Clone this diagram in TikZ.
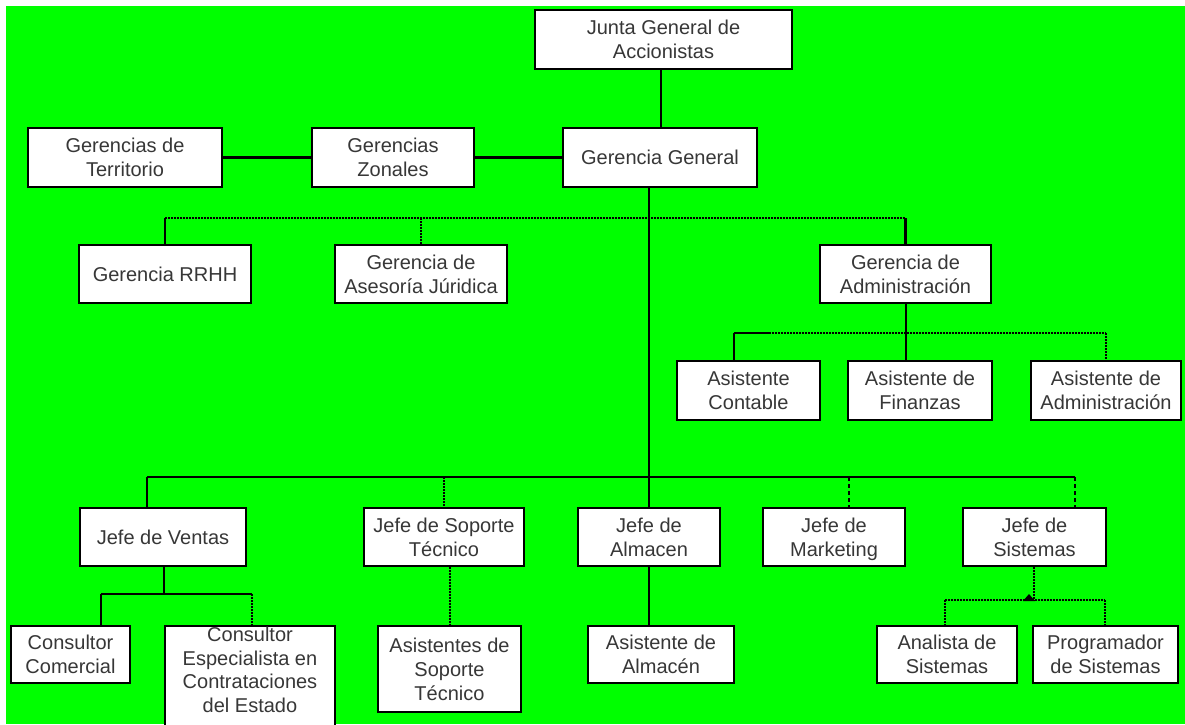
\documentclass[tikz,border=0pt]{standalone}
\usepackage{fontspec}
\setmainfont{Liberation Sans}
\usetikzlibrary{calc}
\definecolor{bggreen}{RGB}{0,255,0}
\definecolor{txtgray}{RGB}{55,55,55}
\begin{document}
\begin{tikzpicture}[x=1pt,y=-1pt,
  box/.style={draw=black, line width=1.8pt, fill=white, text=txtgray, align=center,
    inner sep=0pt, font=\fontsize{20}{24}\selectfont},
  txt/.style={text=txtgray, align=center, inner sep=0pt, font=\fontsize{20}{23.5}\selectfont},
  ln/.style={line width=2.4pt, black},
  dt/.style={line width=2.4pt, black, dash pattern=on 2pt off 1pt},
  dsh/.style={line width=2.4pt, black, dash pattern=on 4pt off 3pt}]
\useasboundingbox (0,0) rectangle (1185,724);
\clip (0,0) rectangle (1185,724);
\fill[white] (0,0) rectangle (1185,724);
\fill[bggreen] (6,6) rectangle (1185,724);

% coordinates of buses
\coordinate (tbus) at (649,218);
\coordinate (abus) at (906,333);
\coordinate (abusl) at (734,333);
\coordinate (abusm) at (769,333);
\coordinate (abusr) at (1106,333);
\coordinate (bbusl) at (147,477);
\coordinate (bbusr) at (1075,477);
\coordinate (vbus) at (164,594);
\coordinate (vbusl) at (101,594);
\coordinate (vbusr) at (252,594);
\coordinate (sbus) at (1034,600);
\coordinate (sbusl) at (945,600);
\coordinate (sbusr) at (1105,600);

% row 0 / 1
\node[box, minimum width=257pt, minimum height=59pt] (junta) at (663.5,39.5) {Junta General de\\Accionistas};
\node[box, minimum width=194pt, minimum height=59pt] (terr) at (125,157.5) {Gerencias de\\Territorio};
\node[box, minimum width=162pt, minimum height=59pt] (zon) at (393,157.5) {Gerencias\\Zonales};
\node[box, minimum width=194pt, minimum height=59pt] (gg) at (660,157.5) {Gerencia General};

% row 2
\node[box, minimum width=172pt, minimum height=58pt] (rrhh) at (165,274) {Gerencia RRHH};
\node[box, minimum width=172pt, minimum height=58pt] (jur) at (421,274) {Gerencia de\\Asesoría Júridica};
\node[box, minimum width=171pt, minimum height=58pt] (adm) at (905.5,274) {Gerencia de\\Administración};

% row 3
\node[box, minimum width=143pt, minimum height=59pt] (cont) at (748.5,390.5) {Asistente\\Contable};
\node[box, minimum width=144pt, minimum height=59pt] (fin) at (920,390.5) {Asistente de\\Finanzas};
\node[box, minimum width=150pt, minimum height=59pt] (asadm) at (1106,390.5) {Asistente de\\Administración};

% row 4
\node[box, minimum width=166pt, minimum height=58pt] (ventas) at (163,537) {Jefe de Ventas};
\node[box, minimum width=160pt, minimum height=58pt] (sop) at (444,537) {Jefe de Soporte\\Técnico};
\node[box, minimum width=142pt, minimum height=58pt] (alm) at (649,537) {Jefe de\\Almacen};
\node[box, minimum width=142pt, minimum height=58pt] (mkt) at (834,537) {Jefe de\\\raisebox{0pt}[\height][0pt]{Marketing}};
\node[box, minimum width=143pt, minimum height=58pt] (sis) at (1034.5,537) {Jefe de\\Sistemas};

% row 5
\node[box, minimum width=119pt, minimum height=57pt] (com) at (70.5,654.5) {Consultor\\Comercial};
\node[box, minimum width=170pt, minimum height=110pt] (espec) at (250,681) {};
\node[txt] (espect) at (250,670) {Consultor\\Especialista en\\Contrataciones\\del Estado};
\node[box, minimum width=143pt, minimum height=86pt] (asop) at (449.5,669) {Asistentes de\\Soporte\\Técnico};
\node[box, minimum width=146pt, minimum height=57pt] (asalm) at (661,654.5) {Asistente de\\Almacén};
\node[box, minimum width=140pt, minimum height=57pt] (anal) at (947,654.5) {Analista de\\Sistemas};
\node[box, minimum width=145pt, minimum height=57pt] (prog) at (1105.5,654.5) {Programador\\de Sistemas};

% connectors top
\draw[ln] (junta.south -| 661,0) -- (gg.north -| 661,0);
\draw[ln] (terr) -- (zon);
\draw[ln] (zon) -- (gg);
\draw[ln] (gg.south -| alm) -- (alm.north);

% second level bus
\draw[dt] (rrhh.north |- tbus) -- (adm.north |- tbus);
\draw[ln] (rrhh.north |- tbus) -- (rrhh.north);
\draw[dt] (jur.north |- tbus) -- (jur.north);
\draw[ln] (adm.north |- tbus) -- (adm.north);

% administration assistants
\draw[ln] (adm.south -| abus) -- (fin.north -| abus);
\draw[ln] (abusl) -- (abusm);
\draw[dt] (abusm) -- (abusr);
\draw[ln] (abusl) -- (cont.north -| abusl);
\draw[dt] (abusr) -- (asadm.north -| abusr);

% bottom bus
\draw[ln] (bbusl) -- (bbusr);
\draw[ln] (bbusl) -- (ventas.north -| bbusl);
\draw[dt] (sop.north |- bbusl) -- (sop.north);
\draw[dsh] (849,477) -- (mkt.north -| 849,0);
\draw[dsh] (bbusr) -- (sis.north -| bbusr);

% ventas sub-bus
\draw[ln] (ventas.south -| vbus) -- (vbus);
\draw[ln] (vbusl) -- (vbusr);
\draw[ln] (vbusl) -- (com.north -| vbusl);
\draw[dt] (vbusr) -- (espec.north -| vbusr);

% soporte / almacen
\draw[dt] (sop.south -| 450,0) -- (asop.north -| 450,0);
\draw[ln] (alm.south) -- (asalm.north -| alm.south);

% sistemas sub-bus
\draw[dt] (sis.south -| sbus) -- (sbus);
\draw[dt] (sbusl) -- (sbusr);
\draw[dt] (sbusl) -- (anal.north -| sbusl);
\draw[dt] (sbusr) -- (prog.north -| sbusr);
\fill[black] (1023,601) -- (1035,601) -- (1029,594) -- cycle;
\end{tikzpicture}
\end{document}
